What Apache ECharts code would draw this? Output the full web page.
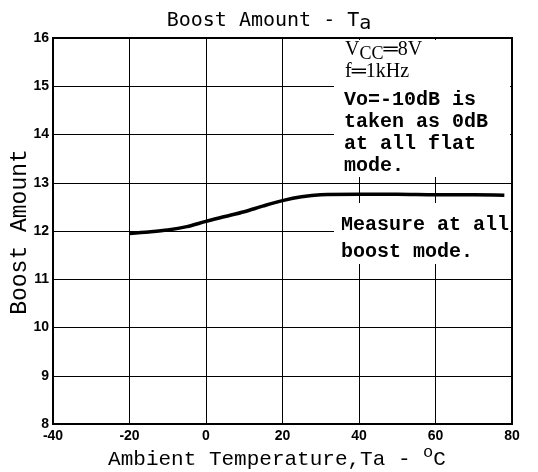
<!DOCTYPE html>
<html><head><meta charset="utf-8">
<script src="https://cdn.jsdelivr.net/npm/echarts@6/dist/echarts.min.js"></script>
<style>html,body{margin:0;padding:0;background:#fff}#c{width:538px;height:472px}</style>
</head><body><div id="c"></div>
<script>
var temps = [-20, -15, -10, -5, 0, 5, 10, 15, 20, 25, 30, 40, 50, 60, 70, 78];
var boost = [11.95, 11.98, 12.02, 12.09, 12.2, 12.3, 12.4, 12.52, 12.63, 12.71, 12.75, 12.76, 12.76, 12.75, 12.75, 12.74];
var xTicks = [-40, -20, 0, 20, 40, 60, 80];
var yTicks = [8, 9, 10, 11, 12, 13, 14, 15, 16];
var xName = 'Ambient Temperature,Ta - {sup|o}C';
var yName = 'Boost Amount';

var chart = echarts.init(document.getElementById('c'), null, {renderer: 'canvas'});
var mono = '"Liberation Mono", "DejaVu Sans Mono", monospace';
var tickFont = {color: '#000', fontFamily: '"Liberation Sans", Arial, sans-serif', fontWeight: 'bold', fontSize: 14};
chart.setOption({
  animation: false,
  backgroundColor: '#fff',
  title: {
    text: 'Boost Amount - T{s|a}',
    left: 'center', top: 3,
    textStyle: {
      color: '#000', fontFamily: '"DejaVu Sans Mono", monospace', fontWeight: 'normal', fontSize: 20,
      rich: {s: {fontFamily: '"DejaVu Sans Mono", monospace', fontSize: 20, color: '#000', padding: [6, 0, 0, 0]}}
    }
  },
  grid: {left: 53, right: 26, top: 38, bottom: 48, containLabel: false, outerBoundsMode: 'none', show: true, borderColor: '#000', borderWidth: 2, backgroundColor: 'transparent'},
  xAxis: {
    type: 'value', min: -40, max: 80, interval: 20,
    axisLine: {show: true, onZero: false, lineStyle: {color: '#000', width: 2}},
    axisTick: {show: false},
    splitLine: {show: true, lineStyle: {color: '#000', width: 1}},
    axisLabel: Object.assign({margin: 5, formatter: function (v) { return xTicks.indexOf(v) >= 0 ? String(v) : ''; }}, tickFont)
  },
  yAxis: {
    type: 'value', min: 8, max: 16, interval: 1,
    axisLine: {show: true, onZero: false, lineStyle: {color: '#000', width: 2}},
    axisTick: {show: false},
    splitLine: {show: true, lineStyle: {color: '#000', width: 1}},
    axisLabel: Object.assign({margin: 4, formatter: function (v) { return yTicks.indexOf(v) >= 0 ? String(v) : ''; }}, tickFont)
  },
  series: [{
    type: 'line',
    data: temps.map(function (t, i) { return [t, boost[i]]; }),
    smooth: 0.3,
    showSymbol: false,
    lineStyle: {color: '#000', width: 3.5},
    z: 3
  }],
  graphic: [
    {type: 'text', z: 6, x: 20, y: 232, rotation: Math.PI / 2, style: {
      text: yName, font: '23px "Liberation Mono", monospace', fill: '#000', align: 'center', verticalAlign: 'middle'
    }},
    {type: 'text', z: 6, x: 277, y: 459, style: {
      text: xName, font: '21px "Liberation Mono", monospace', fill: '#000', align: 'center', verticalAlign: 'middle',
      rich: {sup: {font: '17px "Liberation Mono", monospace', fill: '#000', padding: [0, 0, 14, 0]}}
    }},
    {type: 'rect', z: 5, shape: {x: 334, y: 40, width: 176, height: 137}, style: {fill: '#fff'}},
    {type: 'rect', z: 5, shape: {x: 334, y: 203, width: 176, height: 61}, style: {fill: '#fff'}},
    {type: 'text', z: 6, left: 345, top: 40, style: {
      text: 'V{sub|CC}═8V', font: '20px "Liberation Serif", serif', fill: '#000',
      rich: {sub: {font: '18px "Liberation Serif", serif', fill: '#000', padding: [8, 0, 0, 0]}}
    }},
    {type: 'text', z: 6, left: 345, top: 62, style: {text: 'f═1kHz', font: '20px "Liberation Serif", serif', fill: '#000'}},
    {type: 'text', z: 6, left: 344, top: 89, style: {
      text: 'Vo=-10dB is\ntaken as 0dB\nat all flat\nmode.', font: 'bold 20px "Liberation Mono", monospace', fill: '#000', lineHeight: 22
    }},
    {type: 'text', z: 6, left: 341, top: 211, style: {
      text: 'Measure at all\nboost mode.', font: 'bold 20px "Liberation Mono", monospace', fill: '#000', lineHeight: 27
    }}
  ]
});
</script></body></html>
